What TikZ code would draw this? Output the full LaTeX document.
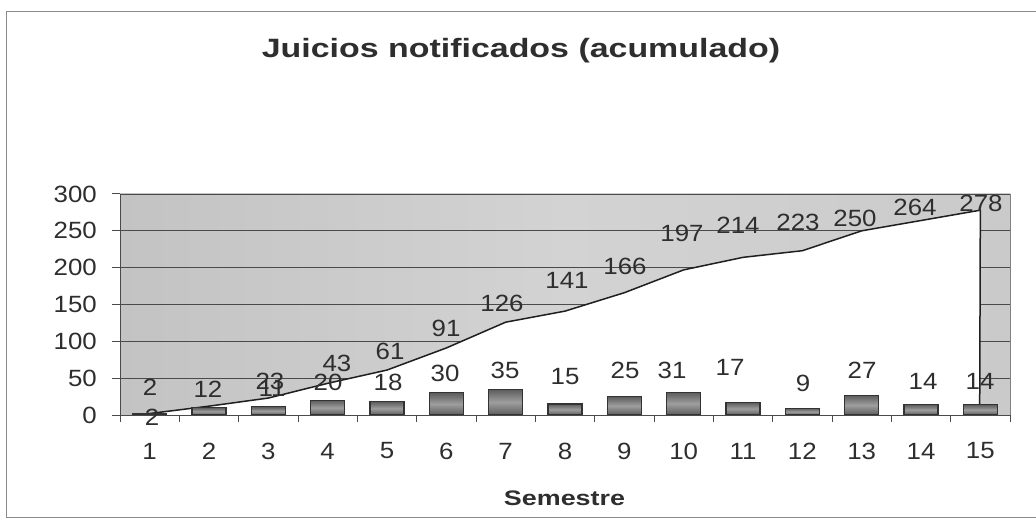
\documentclass[tikz,border=0pt]{standalone}
\usepackage{fontspec}
\setmainfont{Liberation Sans}
\newfontfamily\numfont[FakeStretch=1.1]{Liberation Sans}
\newfontfamily\ttlfont[FakeStretch=1.28]{Liberation Sans Bold}
\definecolor{txt}{HTML}{2E2E2E}
\definecolor{plotbgL}{HTML}{C3C3C3}
\definecolor{plotbgM}{HTML}{D3D3D3}
\definecolor{plotbgR}{HTML}{CACACA}
\definecolor{gridc}{HTML}{4A4A4A}
\definecolor{barDark}{HTML}{5C5C5C}
\definecolor{barLight}{HTML}{9E9E9E}
\definecolor{framec}{HTML}{8A8A8A}
\begin{document}
\begin{tikzpicture}[x=1pt,y=-1pt,
  num/.style={font=\numfont\fontsize{23.5}{23.5}\selectfont, text=txt, inner sep=0pt},
  ttl/.style={font=\ttlfont\fontsize{26.5}{26.5}\selectfont, text=txt, inner sep=0pt},
  axlbl/.style={font=\ttlfont\fontsize{21}{21}\selectfont, text=txt, inner sep=0pt},
  gridline/.style={draw=gridc, line width=0.8pt},
  axisline/.style={draw=gridc, line width=1pt},
  barbox/.style={draw=black!80, line width=1.1pt, top color=barDark, bottom color=barDark, middle color=barLight},
  series/.style={draw=black!88, line width=1.5pt, line join=round}
]
\useasboundingbox (0,0) rectangle (1036,529);
\fill[white] (0,0) rectangle (1036,529);
% outer frame
\draw[framec, line width=1pt] (1036,12) -- (6,12) -- (6,517) -- (1036,517);
% title
\node[ttl, anchor=base] (title) at (521,58) {Juicios notificados (acumulado)};
% plot background
\shade[left color=plotbgL, right color=plotbgR, middle color=plotbgM] (120,194) rectangle (1010,415);
\foreach \v in {50,100,...,300} \draw[gridline] (120,{415-\v*0.7367}) -- (1010,{415-\v*0.7367});
\draw[draw=gray, line width=0.8pt] (1010,194) -- (1010,415);
% area (white) under cumulative line
\fill[white] (149.67,415)
  \foreach \v [count=\i] in {2,12,23,43,61,91,126,141,166,197,214,223,250,264,278}
  { -- ({120+59.333*(\i-0.5)},{415-\v*0.7367}) } -- (979.67,415) -- cycle;
% cumulative line
\draw[series] (149.67,{415-2*0.7367})
  \foreach \v [count=\i] in {2,12,23,43,61,91,126,141,166,197,214,223,250,264,278}
  { -- ({120+59.333*(\i-0.5)},{415-\v*0.7367}) } -- (979.67,415);
% bars
\foreach \v [count=\i] in {2,10,11,20,18,30,35,15,25,31,17,9,27,14,14}
  \path[barbox] ({120+59.333*(\i-0.5)-17},415) rectangle ({120+59.333*(\i-0.5)+17},{415-\v*0.7367});
% axes and ticks
\draw[axisline] (120,194) -- (120,415) -- (1010,415);
\foreach \v in {0,50,...,300} \draw[axisline] (112,{415-\v*0.7367}) -- (120,{415-\v*0.7367});
\foreach \i in {0,...,15} \draw[axisline] ({120+59.333*\i},415) -- ({120+59.333*\i},422);
% axis labels
\foreach \v in {0,50,...,300} \node[num, anchor=east] (y\v) at (97,{415-\v*0.7367}) {\v};
\foreach \i in {1,...,15} \node[num] (x\i) at ({120+59.333*(\i-0.5)},451) {\i};
\node[axlbl, anchor=base] (xtitle) at (564.5,505) {Semestre};
% line labels
\foreach \x/\y/\t [count=\k] in {150/387/2, 208/389/12, 270/381/23, 337/363/43, 390/351/61,
  446/328/91, 502/303/126, 567/280/141, 625/266/166, 682/233/197, 738/225/214,
  798/222/223, 855/218/250, 915/207/264, 981/203/278}
  \node[num] (l\k) at (\x,\y) {\t};
% bar labels
\foreach \x/\y/\t [count=\k] in {152/417/2, 272/388/11, 328/382/20, 388/382/18, 445/373/30,
  505/370/35, 565/377/15, 625/370/25, 672/370/31, 730/367/17, 803/383/9,
  862/370/27, 923/381/14, 980/381/14}
  \node[num] (b\k) at (\x,\y) {\t};
\end{tikzpicture}
\end{document}
